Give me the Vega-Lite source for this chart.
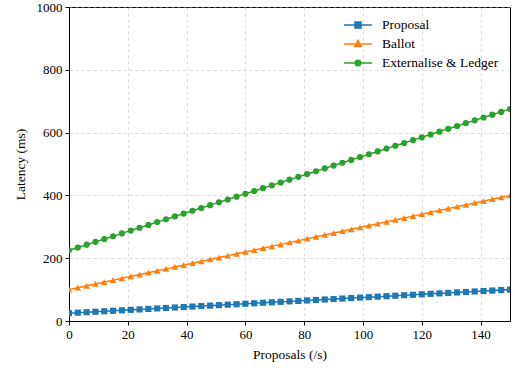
{
  "$schema": "https://vega.github.io/schema/vega-lite/v6.json",
  "width": 441,
  "height": 314,
  "autosize": {"type": "none"},
  "padding": {"left": 69, "top": 7, "right": 5, "bottom": 47},
  "background": "white",
  "config": {
    "font": "Liberation Serif",
    "view": {"stroke": "black", "strokeWidth": 1},
    "axis": {
      "labelFont": "Liberation Serif",
      "labelFontSize": 13,
      "labelColor": "black",
      "titleFont": "Liberation Serif",
      "titleFontSize": 13.5,
      "titleFontWeight": "normal",
      "titleColor": "black",
      "domainColor": "black",
      "tickColor": "black",
      "tickSize": 4,
      "labelFlush": false,
      "gridColor": "#b0b0b0",
      "gridOpacity": 0.6,
      "gridDash": [3, 3],
      "gridWidth": 0.8
    },
    "legend": {
      "labelFont": "Liberation Serif",
      "labelFontSize": 13.5,
      "labelColor": "black"
    }
  },
  "data": {
    "values": [
      {"x":0,"s":"Proposal","y":25},{"x":3,"s":"Proposal","y":26.5},{"x":6,"s":"Proposal","y":28},{"x":9,"s":"Proposal","y":29.5},{"x":12,"s":"Proposal","y":31},{"x":15,"s":"Proposal","y":32.5},{"x":18,"s":"Proposal","y":34},{"x":21,"s":"Proposal","y":35.5},{"x":24,"s":"Proposal","y":37},{"x":27,"s":"Proposal","y":38.5},{"x":30,"s":"Proposal","y":40},{"x":33,"s":"Proposal","y":41.5},{"x":36,"s":"Proposal","y":43},{"x":39,"s":"Proposal","y":44.5},{"x":42,"s":"Proposal","y":46},{"x":45,"s":"Proposal","y":47.5},{"x":48,"s":"Proposal","y":49},{"x":51,"s":"Proposal","y":50.5},{"x":54,"s":"Proposal","y":52},{"x":57,"s":"Proposal","y":53.5},{"x":60,"s":"Proposal","y":55},{"x":63,"s":"Proposal","y":56.5},{"x":66,"s":"Proposal","y":58},{"x":69,"s":"Proposal","y":59.5},{"x":72,"s":"Proposal","y":61},{"x":75,"s":"Proposal","y":62.5},{"x":78,"s":"Proposal","y":64},{"x":81,"s":"Proposal","y":65.5},{"x":84,"s":"Proposal","y":67},{"x":87,"s":"Proposal","y":68.5},{"x":90,"s":"Proposal","y":70},{"x":93,"s":"Proposal","y":71.5},{"x":96,"s":"Proposal","y":73},{"x":99,"s":"Proposal","y":74.5},{"x":102,"s":"Proposal","y":76},{"x":105,"s":"Proposal","y":77.5},{"x":108,"s":"Proposal","y":79},{"x":111,"s":"Proposal","y":80.5},{"x":114,"s":"Proposal","y":82},{"x":117,"s":"Proposal","y":83.5},{"x":120,"s":"Proposal","y":85},{"x":123,"s":"Proposal","y":86.5},{"x":126,"s":"Proposal","y":88},{"x":129,"s":"Proposal","y":89.5},{"x":132,"s":"Proposal","y":91},{"x":135,"s":"Proposal","y":92.5},{"x":138,"s":"Proposal","y":94},{"x":141,"s":"Proposal","y":95.5},{"x":144,"s":"Proposal","y":97},{"x":147,"s":"Proposal","y":98.5},{"x":150,"s":"Proposal","y":100},
      {"x":0,"s":"Ballot","y":100},{"x":3,"s":"Ballot","y":106},{"x":6,"s":"Ballot","y":112},{"x":9,"s":"Ballot","y":118},{"x":12,"s":"Ballot","y":124},{"x":15,"s":"Ballot","y":130},{"x":18,"s":"Ballot","y":136},{"x":21,"s":"Ballot","y":142},{"x":24,"s":"Ballot","y":148},{"x":27,"s":"Ballot","y":154},{"x":30,"s":"Ballot","y":160},{"x":33,"s":"Ballot","y":166},{"x":36,"s":"Ballot","y":172},{"x":39,"s":"Ballot","y":178},{"x":42,"s":"Ballot","y":184},{"x":45,"s":"Ballot","y":190},{"x":48,"s":"Ballot","y":196},{"x":51,"s":"Ballot","y":202},{"x":54,"s":"Ballot","y":208},{"x":57,"s":"Ballot","y":214},{"x":60,"s":"Ballot","y":220},{"x":63,"s":"Ballot","y":226},{"x":66,"s":"Ballot","y":232},{"x":69,"s":"Ballot","y":238},{"x":72,"s":"Ballot","y":244},{"x":75,"s":"Ballot","y":250},{"x":78,"s":"Ballot","y":256},{"x":81,"s":"Ballot","y":262},{"x":84,"s":"Ballot","y":268},{"x":87,"s":"Ballot","y":274},{"x":90,"s":"Ballot","y":280},{"x":93,"s":"Ballot","y":286},{"x":96,"s":"Ballot","y":292},{"x":99,"s":"Ballot","y":298},{"x":102,"s":"Ballot","y":304},{"x":105,"s":"Ballot","y":310},{"x":108,"s":"Ballot","y":316},{"x":111,"s":"Ballot","y":322},{"x":114,"s":"Ballot","y":328},{"x":117,"s":"Ballot","y":334},{"x":120,"s":"Ballot","y":340},{"x":123,"s":"Ballot","y":346},{"x":126,"s":"Ballot","y":352},{"x":129,"s":"Ballot","y":358},{"x":132,"s":"Ballot","y":364},{"x":135,"s":"Ballot","y":370},{"x":138,"s":"Ballot","y":376},{"x":141,"s":"Ballot","y":382},{"x":144,"s":"Ballot","y":388},{"x":147,"s":"Ballot","y":394},{"x":150,"s":"Ballot","y":400},
      {"x":0,"s":"Externalise & Ledger","y":225},{"x":3,"s":"Externalise & Ledger","y":234},{"x":6,"s":"Externalise & Ledger","y":243},{"x":9,"s":"Externalise & Ledger","y":252},{"x":12,"s":"Externalise & Ledger","y":261},{"x":15,"s":"Externalise & Ledger","y":270},{"x":18,"s":"Externalise & Ledger","y":279},{"x":21,"s":"Externalise & Ledger","y":288},{"x":24,"s":"Externalise & Ledger","y":297},{"x":27,"s":"Externalise & Ledger","y":306},{"x":30,"s":"Externalise & Ledger","y":315},{"x":33,"s":"Externalise & Ledger","y":324},{"x":36,"s":"Externalise & Ledger","y":333},{"x":39,"s":"Externalise & Ledger","y":342},{"x":42,"s":"Externalise & Ledger","y":351},{"x":45,"s":"Externalise & Ledger","y":360},{"x":48,"s":"Externalise & Ledger","y":369},{"x":51,"s":"Externalise & Ledger","y":378},{"x":54,"s":"Externalise & Ledger","y":387},{"x":57,"s":"Externalise & Ledger","y":396},{"x":60,"s":"Externalise & Ledger","y":405},{"x":63,"s":"Externalise & Ledger","y":414},{"x":66,"s":"Externalise & Ledger","y":423},{"x":69,"s":"Externalise & Ledger","y":432},{"x":72,"s":"Externalise & Ledger","y":441},{"x":75,"s":"Externalise & Ledger","y":450},{"x":78,"s":"Externalise & Ledger","y":459},{"x":81,"s":"Externalise & Ledger","y":468},{"x":84,"s":"Externalise & Ledger","y":477},{"x":87,"s":"Externalise & Ledger","y":486},{"x":90,"s":"Externalise & Ledger","y":495},{"x":93,"s":"Externalise & Ledger","y":504},{"x":96,"s":"Externalise & Ledger","y":513},{"x":99,"s":"Externalise & Ledger","y":522},{"x":102,"s":"Externalise & Ledger","y":531},{"x":105,"s":"Externalise & Ledger","y":540},{"x":108,"s":"Externalise & Ledger","y":549},{"x":111,"s":"Externalise & Ledger","y":558},{"x":114,"s":"Externalise & Ledger","y":567},{"x":117,"s":"Externalise & Ledger","y":576},{"x":120,"s":"Externalise & Ledger","y":585},{"x":123,"s":"Externalise & Ledger","y":594},{"x":126,"s":"Externalise & Ledger","y":603},{"x":129,"s":"Externalise & Ledger","y":612},{"x":132,"s":"Externalise & Ledger","y":621},{"x":135,"s":"Externalise & Ledger","y":630},{"x":138,"s":"Externalise & Ledger","y":639},{"x":141,"s":"Externalise & Ledger","y":648},{"x":144,"s":"Externalise & Ledger","y":657},{"x":147,"s":"Externalise & Ledger","y":666},{"x":150,"s":"Externalise & Ledger","y":675}
    ]
  },
  "encoding": {
    "x": {
      "field": "x", "type": "quantitative",
      "scale": {"domain": [0, 150], "nice": false, "zero": false},
      "axis": {"title": "Proposals (/s)", "values": [0,20,40,60,80,100,120,140], "labelPadding": 3, "titlePadding": 6}
    },
    "y": {
      "field": "y", "type": "quantitative",
      "scale": {"domain": [0, 1000], "nice": false},
      "axis": {"title": "Latency (ms)", "values": [0,200,400,600,800,1000], "format": "d", "labelPadding": 3, "titlePadding": 9}
    },
    "color": {
      "field": "s", "type": "nominal",
      "scale": {"domain": ["Proposal", "Ballot", "Externalise & Ledger"], "range": ["#1f77b4", "#ff7f0e", "#2ca02c"]},
      "legend": {
        "title": null, "orient": "none", "legendX": 278, "legendY": 7, "rowPadding": 1,
        "symbolSize": 400, "labelOffset": 13, "symbolStrokeWidth": 1.5,
        "encode": {
          "symbols": {
            "update": {
              "shape": {"signal": "datum.value === 'Proposal' ? 'M-1.4,0H1.4M-0.3,-0.3H0.3V0.3H-0.3Z' : datum.value === 'Ballot' ? 'M-1.4,0H1.4M0,-0.36L0.34,0.26H-0.34Z' : 'M-1.4,0H1.4M-0.28,0A0.28,0.28 0 1,0 0.28,0A0.28,0.28 0 1,0 -0.28,0Z'"},
              "fill": {"signal": "scale('color', datum.value)"},
              "stroke": {"signal": "scale('color', datum.value)"},
              "opacity": {"value": 1}
            }
          }
        }
      }
    }
  },
  "layer": [
    {"mark": {"type": "line", "strokeWidth": 1.5, "clip": true}},
    {
      "transform": [{"filter": "datum.s === 'Proposal'"}],
      "mark": {"type": "point", "shape": "square", "filled": true, "opacity": 1, "size": 38, "clip": true}
    },
    {
      "transform": [{"filter": "datum.s === 'Ballot'"}],
      "mark": {"type": "point", "shape": "triangle-up", "filled": true, "opacity": 1, "size": 44, "clip": true}
    },
    {
      "transform": [{"filter": "datum.s === 'Externalise & Ledger'"}],
      "mark": {"type": "point", "shape": "circle", "filled": true, "opacity": 1, "size": 38, "clip": true}
    }
  ]
}
